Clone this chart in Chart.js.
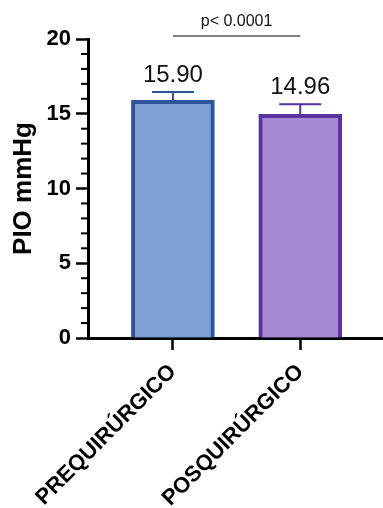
<!DOCTYPE html>
<html>
<head>
<meta charset="utf-8">
<script src="https://cdn.jsdelivr.net/npm/chart.js@4"></script>
<style>
  html, body { margin: 0; padding: 0; background: #fff; }
  #wrap { width: 383px; height: 508px; }
</style>
</head>
<body>
<div id="wrap"><canvas id="chart"></canvas></div>
<script>
// Data
const categories = ['PREQUIRÚRGICO', 'POSQUIRÚRGICO'];
const meanValues = [15.90, 14.96];
const errorValues = [0.55, 0.67];
const yTicks = [0, 5, 10, 15, 20];
const minorTicks = [1, 2, 3, 4, 6, 7, 8, 9, 11, 12, 13, 14, 16, 17, 18, 19];
const pValueText = 'p< 0.0001';

const fillColors = ['#7ea1d4', '#a58ad3'];
const lineColors = ['#2d5597', '#58329e'];
const FONT = "'Liberation Sans', Arial, sans-serif";

// minor ticks on the y axis
const minorTickPlugin = {
  id: 'minorTicks',
  afterDraw(chart) {
    const ctx = chart.ctx;
    const y = chart.scales.y;
    const left = chart.chartArea.left;
    ctx.save();
    ctx.strokeStyle = '#000';
    ctx.lineWidth = 2;
    minorTicks.forEach((v) => {
      const py = y.getPixelForValue(v);
      ctx.beginPath();
      ctx.moveTo(left - 7, py);
      ctx.lineTo(left, py);
      ctx.stroke();
    });
    ctx.restore();
  }
};

// error bars, value labels and the p-value bracket
const annotatePlugin = {
  id: 'annotate',
  afterDatasetsDraw(chart) {
    const ctx = chart.ctx;
    const y = chart.scales.y;
    const bars = chart.getDatasetMeta(0).data;
    ctx.save();
    bars.forEach((bar, i) => {
      const top = y.getPixelForValue(meanValues[i] + errorValues[i]);
      ctx.strokeStyle = lineColors[i];
      ctx.lineWidth = 2;
      ctx.beginPath();
      ctx.moveTo(bar.x, bar.y);
      ctx.lineTo(bar.x, top);
      ctx.moveTo(bar.x - 21, top);
      ctx.lineTo(bar.x + 21, top);
      ctx.stroke();

      ctx.fillStyle = '#111';
      ctx.font = '24px ' + FONT;
      ctx.textAlign = 'center';
      ctx.textBaseline = 'alphabetic';
      ctx.fillText(meanValues[i].toFixed(2), bar.x, top - 10);
    });

    // bracket between the two groups
    const lineY = chart.chartArea.top - 3;
    ctx.strokeStyle = '#000';
    ctx.lineWidth = 1.2;
    ctx.beginPath();
    ctx.moveTo(bars[0].x, lineY);
    ctx.lineTo(bars[1].x, lineY);
    ctx.stroke();
    ctx.fillStyle = '#111';
    ctx.font = '16px ' + FONT;
    ctx.textAlign = 'center';
    ctx.fillText(pValueText, (bars[0].x + bars[1].x) / 2, lineY - 10);
    ctx.restore();
  }
};

new Chart(document.getElementById('chart'), {
  type: 'bar',
  data: {
    datasets: [{
      data: meanValues.map((v, i) => ({ x: i + 1, y: v })),
      backgroundColor: fillColors,
      borderColor: lineColors,
      borderWidth: 4,
      borderSkipped: 'start',
      barThickness: 83
    }]
  },
  options: {
    responsive: true,
    maintainAspectRatio: false,
    animation: false,
    layout: { padding: { top: 39, right: 0, left: 0, bottom: 0 } },
    plugins: { legend: { display: false }, tooltip: { enabled: false } },
    scales: {
      x: {
        type: 'linear',
        offset: false,
        min: 0.333,
        max: 2.65,
        afterBuildTicks: (scale) => {
          scale.ticks = categories.map((c, i) => ({ value: i + 1 }));
        },
        afterFit: (scale) => { scale.height = 170; },
        grid: {
          offset: false,
          drawOnChartArea: false,
          tickLength: 12,
          tickWidth: 2.5,
          tickColor: '#000'
        },
        border: { display: true, color: '#000', width: 3 },
        ticks: {
          autoSkip: false,
          minRotation: 45,
          maxRotation: 45,
          padding: 9,
          color: '#000',
          font: { family: FONT, size: 22, weight: 'bold' },
          callback: (v) => categories[v - 1]
        }
      },
      y: {
        min: 0,
        max: 20,
        afterBuildTicks: (scale) => {
          scale.ticks = yTicks.map((v) => ({ value: v }));
        },
        afterFit: (scale) => { scale.width = 88; },
        grid: {
          drawOnChartArea: false,
          tickLength: 12,
          tickWidth: 2.5,
          tickColor: '#000'
        },
        border: { display: true, color: '#000', width: 3 },
        ticks: {
          padding: 5,
          color: '#000',
          font: { family: FONT, size: 22, weight: 'bold' }
        },
        title: {
          display: true,
          text: 'PIO mmHg',
          color: '#000',
          padding: { top: 8, bottom: 0 },
          font: { family: FONT, size: 26, weight: 'bold' }
        }
      }
    }
  },
  plugins: [minorTickPlugin, annotatePlugin]
});
</script>
</body>
</html>
